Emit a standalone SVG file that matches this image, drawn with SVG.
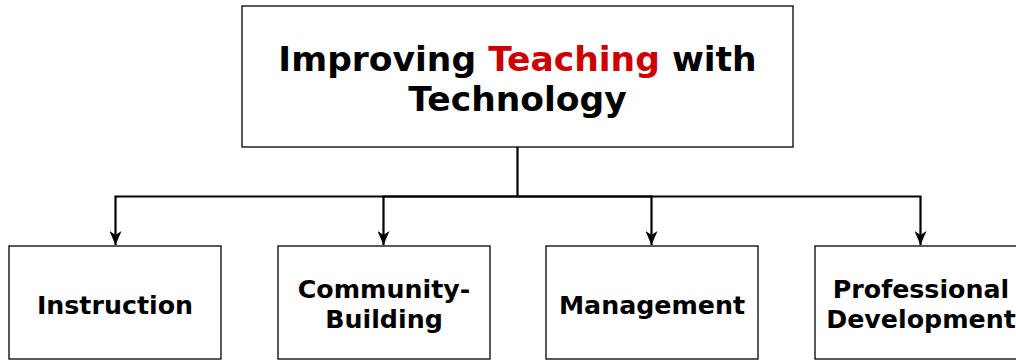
<svg xmlns="http://www.w3.org/2000/svg" width="1016" height="362" viewBox="0 0 1016 362">
<style>
.box{fill:#fff;stroke:#000;stroke-width:1.3}
.t{font-family:"DejaVu Sans",Verdana,sans-serif;font-weight:bold;text-anchor:middle;fill:#000}
.e{fill:none;stroke:#000;stroke-width:2.2}
</style>
<defs>
<marker id="ar" viewBox="0 0 14 12" refX="14" refY="6" markerWidth="14" markerHeight="12" markerUnits="userSpaceOnUse" orient="auto">
<path d="M0,0 L14,6 L0,12 L4,6 Z" fill="#000"/>
</marker>
</defs>
<rect width="1016" height="362" fill="#fff"/>
<g id="connectors">
<path class="e" d="M517.5,147 V196.5" stroke-width="3"/>
<path class="e" d="M517.5,196.5 H115.5 V245" marker-end="url(#ar)"/>
<path class="e" d="M517.5,196.5 H383.5 V245" marker-end="url(#ar)"/>
<path class="e" d="M517.5,196.5 H651.5 V245" marker-end="url(#ar)"/>
<path class="e" d="M517.5,196.5 H920.5 V245" marker-end="url(#ar)"/>
</g>
<g id="root">
<rect class="box" x="242" y="6" width="551" height="141"/>
<text class="t" font-size="34.5"><tspan x="517.5" y="71">Improving <tspan fill="#cc0000">Teaching</tspan> with</tspan><tspan x="517.5" y="111">Technology</tspan></text>
</g>
<g id="instruction">
<rect class="box" x="9" y="246" width="212" height="113"/>
<text class="t" font-size="25.3" x="115" y="314">Instruction</text>
</g>
<g id="community">
<rect class="box" x="278" y="246" width="212" height="113"/>
<text class="t" font-size="25.3"><tspan x="384" y="298">Community-</tspan><tspan x="384" y="328">Building</tspan></text>
</g>
<g id="management">
<rect class="box" x="546" y="246" width="212" height="113"/>
<text class="t" font-size="25.3" x="652" y="314">Management</text>
</g>
<g id="professional">
<rect class="box" x="815" y="246" width="212" height="113"/>
<text class="t" font-size="25.3"><tspan x="921" y="298">Professional</tspan><tspan x="921" y="328">Development</tspan></text>
</g>
</svg>
